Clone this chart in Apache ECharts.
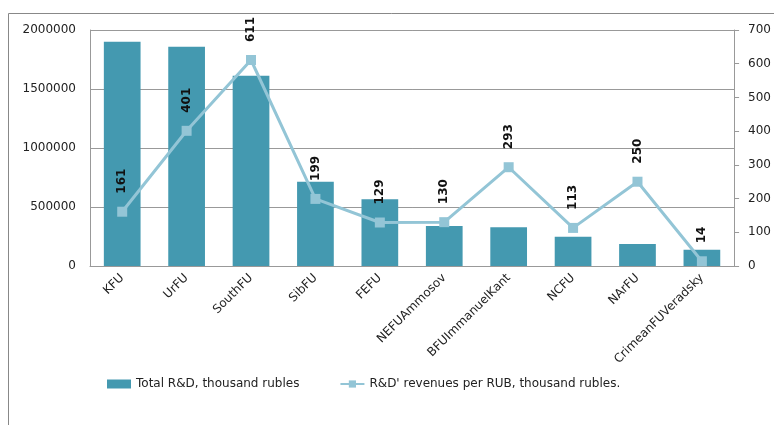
<!DOCTYPE html>
<html>
<head>
<meta charset="utf-8">
<script src="https://cdn.jsdelivr.net/npm/echarts@6/dist/echarts.min.js"></script>
<style>
	html, body { margin: 0; padding: 0; background: #fff; }
	#chart { width: 774px; height: 425px; }
</style>
</head>
<body>
<div id="chart"></div>
<script>
	// universities
	const categories = ['KFU', 'UrFU', 'SouthFU', 'SibFU', 'FEFU', 'NEFUAmmosov', 'BFUImmanuelKant', 'NCFU', 'NArFU', 'CrimeanFUVeradsky'];
	// Total R&D, thousand rubles (bars, left axis)
	const totalRD = [1900000, 1858000, 1613000, 714000, 565000, 339000, 328000, 248000, 186000, 138000];
	// R&D revenues per RUB (line, right axis)
	const revenuesPerRub = [161, 401, 611, 199, 129, 130, 293, 113, 250, 14];

	const barColor = '#4499B0';
	const lineColor = '#93C5D6';
	const font = 'DejaVu Sans';

	let chart = echarts.init(document.getElementById('chart'));
	let option = {
		animation: false,
		textStyle: { fontFamily: font },
		graphic: [{
			type: 'rect',
			shape: { x: 8.5, y: 13.5, width: 900, height: 600 },
			style: { fill: 'none', stroke: '#888', lineWidth: 1 },
			z: -1
		}],
		grid: { left: 90, right: 36, top: 30, bottom: 159, containLabel: false },
		legend: {
			bottom: 30,
			left: 102,
			itemGap: 40,
			itemWidth: 24,
			itemHeight: 9,
			textStyle: { color: '#222', fontSize: 12, fontFamily: font },
			data: [
				{ name: 'Total R&D, thousand rubles', icon: 'rect' },
				{ name: "R&D' revenues per RUB, thousand rubles." }
			]
		},
		xAxis: {
			type: 'category',
			data: categories,
			axisLine: { lineStyle: { color: '#999' } },
			axisTick: { show: false },
			axisLabel: { rotate: 45, color: '#222', fontSize: 12, margin: 10, interval: 0 }
		},
		yAxis: [{
			type: 'value',
			min: 0, max: 2000000, interval: 500000,
			axisLine: { show: true, lineStyle: { color: '#999' } },
			axisTick: { show: false },
			axisLabel: { color: '#222', fontSize: 12, margin: 14, formatter: v => String(v) },
			splitLine: { lineStyle: { color: '#999' } }
		}, {
			type: 'value',
			min: 0, max: 700, interval: 100,
			position: 'right',
			axisLine: { show: true, lineStyle: { color: '#999' } },
			axisTick: { show: true, length: 5, lineStyle: { color: '#999' } },
			axisLabel: { color: '#222', fontSize: 12, margin: 14 },
			splitLine: { show: false }
		}],
		series: [{
			name: 'Total R&D, thousand rubles',
			type: 'bar',
			data: totalRD,
			barWidth: '57%',
			itemStyle: { color: barColor }
		}, {
			name: "R&D' revenues per RUB, thousand rubles.",
			type: 'line',
			yAxisIndex: 1,
			data: revenuesPerRub,
			symbol: 'rect',
			symbolSize: 10,
			lineStyle: { color: lineColor, width: 3 },
			itemStyle: { color: lineColor },
			label: {
				show: true,
				position: 'top',
				distance: 13,
				rotate: 90,
				align: 'left',
				verticalAlign: 'middle',
				color: '#111',
				fontWeight: 'bold',
				fontSize: 12
			}
		}]
	};
	chart.setOption(option);
	window.onresize = chart.resize;
</script>
</body>
</html>
